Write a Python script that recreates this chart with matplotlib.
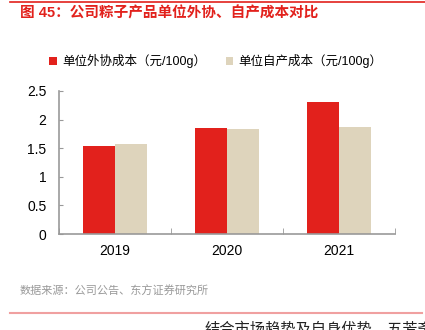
import matplotlib
matplotlib.use("Agg")
import matplotlib.pyplot as plt
from matplotlib.lines import Line2D
import numpy as np

plt.rcParams['font.family'] = ['Liberation Sans', 'Noto Sans CJK SC', 'DejaVu Sans']

categories = ['2019', '2020', '2021']
outsourced = [1.54, 1.85, 2.31]
selfmade = [1.58, 1.84, 1.87]
series_names = ['单位外协成本（元/100g）', '单位自产成本（元/100g）']
yticks = [0, 0.5, 1, 1.5, 2, 2.5]
ytick_labels = ['0', '0.5', '1', '1.5', '2', '2.5']

W, H = 425, 330
fig = plt.figure(figsize=(W/100, H/100), dpi=100)

def fx(x): return x / W
def fy(y): return 1 - y / H

ax = fig.add_axes([fx(59), fy(234), fx(395) - fx(59), fy(91) - fy(234)])
x = np.arange(len(categories))
bw = 0.286
red = '#e2211c'
beige = '#ded4bc'
ax.bar(x - bw/2, outsourced, bw, color=red, label=series_names[0])
ax.bar(x + bw/2, selfmade, bw, color=beige, label=series_names[1])
ax.set_xlim(-0.5, 2.5)
ax.set_ylim(0, 2.5)
ax.set_yticks(yticks)
ax.set_yticklabels(ytick_labels)
ax.set_xticks(x)
ax.set_xticklabels(categories)
ax.set_xticks([-0.5, 0.5, 1.5, 2.5], minor=True)
ax.tick_params(axis='x', which='major', length=0, pad=7, labelsize=10)
ax.tick_params(axis='x', which='minor', length=4, color='#999999', direction='in')
ax.tick_params(axis='y', length=3, color='#999999', direction='in', labelsize=10, pad=9)
for s in ['top', 'right']:
    ax.spines[s].set_visible(False)
for s in ['left', 'bottom']:
    ax.spines[s].set_color('#999999')
    ax.spines[s].set_linewidth(1.2)

fig.legend(loc='center', bbox_to_anchor=(fx(216), fy(61)), ncol=2, frameon=False,
           fontsize=9, handlelength=0.6, handleheight=0.6, handletextpad=0.4,
           columnspacing=1.6)

fig.add_artist(Line2D([fx(10), fx(425)], [fy(2), fy(2)], color='#e2211c', lw=1.2))
fig.text(fx(20), fy(13), '图 45：公司粽子产品单位外协、自产成本对比', color='#e2211c',
         fontsize=10.5, fontweight='bold', va='center', ha='left')
fig.text(fx(20), fy(291), '数据来源：公司公告、东方证券研究所', color='#999999',
         fontsize=8, va='center', ha='left')
fig.add_artist(Line2D([fx(10), fx(422)], [fy(313), fy(313)], color='#f0a0a0', lw=1.5))
fig.text(fx(205), fy(329), '结合市场趋势及自身优势，五芳斋', color='#222222',
         fontsize=11, va='center', ha='left')

fig.savefig('out.png', dpi=100)
